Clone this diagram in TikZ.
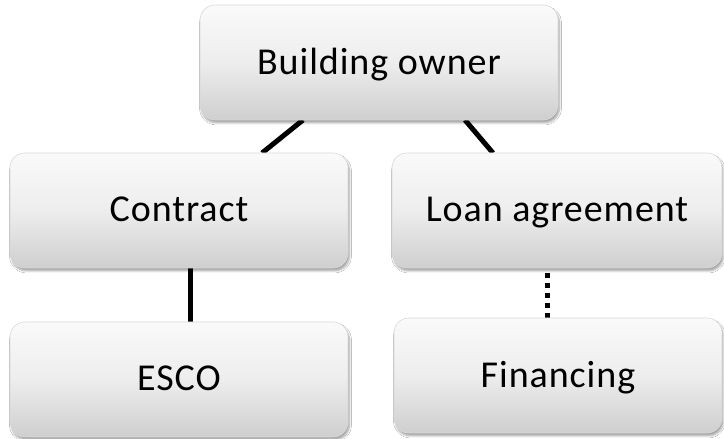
\documentclass[tikz,border=0pt]{standalone}
\usepackage{fontspec}
\setmainfont{Carlito}[LetterSpace=2.5]
\usetikzlibrary{shadows.blur,calc}
\tikzset{
  box/.style={rounded corners=15pt, minimum height=115pt, inner sep=0pt,
    top color=white!96!gray, bottom color=black!19, middle color=black!7,
    draw=black!15, line width=0.6pt,
    blur shadow={shadow xshift=1.5pt, shadow yshift=-3pt, shadow blur steps=6, shadow opacity=35},
    font=\fontsize{38}{44}\selectfont, text depth=3pt},
  link/.style={line width=5pt, black},
  dotlink/.style={line width=5pt, black, dash pattern=on 5pt off 5pt}
}
\begin{document}
\begin{tikzpicture}[x=1pt,y=1pt]
\useasboundingbox[fill=white] (0,0) rectangle (724,439);
\draw[link] (303,319) -- (262,286);
\draw[link] (465,319) -- (493,286);
\draw[link] (190,171) -- (190,117);
\draw[dotlink] (547,166) -- (547,121);
\node[box, minimum width=358pt] (bo) at (379,376.5) {Building owner};
\node[box, minimum width=338pt] (ct) at (179,228.5) {Contract};
\node[box, minimum width=330pt] (lo) at (557,228.5) {Loan agreement};
\node[box, minimum width=338pt] (es) at (179,59.5) {ESCO};
\node[box, minimum width=328pt] (fi) at (558,63.5) {Financing};
\end{tikzpicture}
\end{document}
